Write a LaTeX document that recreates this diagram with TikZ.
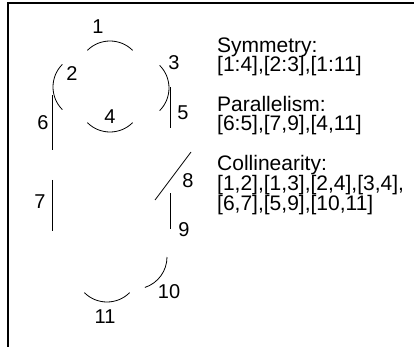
\documentclass[tikz,border=0pt]{standalone}
\usepackage{fontspec}
\setmainfont{Liberation Sans}
\begin{document}
\begin{tikzpicture}[x=1pt,y=1pt,
  stroke/.style={line width=0.8pt,black},
  frameline/.style={line width=1.3pt,black},
  lbl/.style={inner sep=0pt,font=\fontsize{20}{24}\selectfont},
  txt/.style={inner sep=0pt,anchor=base west,text height=13pt,text depth=4pt,font=\fontsize{21}{24}\selectfont}]
\useasboundingbox (0,0) rectangle (414,-347);
% frame
\draw[frameline] (8,-347) -- (8,-3) -- (414,-3);
% arcs
\draw[stroke] (110,-73) ++(45:32pt) arc[start angle=45,end angle=135,radius=32pt];
\draw[stroke] (85,-87) ++(135:32pt) arc[start angle=135,end angle=225,radius=32pt];
\draw[stroke] (137,-88) ++(-45:32pt) arc[start angle=-45,end angle=45,radius=32pt];
\draw[stroke] (110,-100) ++(225:32pt) arc[start angle=225,end angle=315,radius=32pt];
\draw[stroke] (135,-257) ++(-72:32pt) arc[start angle=-72,end angle=0,radius=32pt];
\draw[stroke] (107,-270) ++(225:32pt) arc[start angle=225,end angle=315,radius=32pt];
% segments
\draw[stroke] (52,-95) -- (52,-150);
\draw[stroke] (170,-87) -- (170,-128);
\draw[stroke] (52,-180) -- (52,-231);
\draw[stroke] (191,-152) -- (155,-200);
\draw[stroke] (170,-193) -- (170,-229);
% labels
\node[lbl] (l1) at (98,-27) {1};
\node[lbl] (l2) at (72,-74) {2};
\node[lbl] (l3) at (174,-63) {3};
\node[lbl] (l4) at (110,-117) {4};
\node[lbl] (l5) at (183,-113) {5};
\node[lbl] (l6) at (43,-123) {6};
\node[lbl] (l7) at (40,-202) {7};
\node[lbl] (l8) at (188,-181) {8};
\node[lbl] (l9) at (184,-230) {9};
\node[lbl] (l10) at (169,-292) {10};
\node[lbl] (l11) at (105,-317) {11};
% text
\node[txt] (t1) at (217,-52.5) {Symmetry:};
\node[txt] (t2) at (217,-71.5) {[1:4],[2:3],[1:11]};
\node[txt] (t3) at (217,-111.5) {Parallelism:};
\node[txt] (t4) at (217,-130.5) {[6:5],[7,9],[4,11]};
\node[txt] (t5) at (217,-170.5) {Collinearity:};
\node[txt] (t6) at (217,-190.5) {[1,2],[1,3],[2,4],[3,4],};
\node[txt] (t7) at (217,-210.5) {[6,7],[5,9],[10,11]};
\end{tikzpicture}
\end{document}
